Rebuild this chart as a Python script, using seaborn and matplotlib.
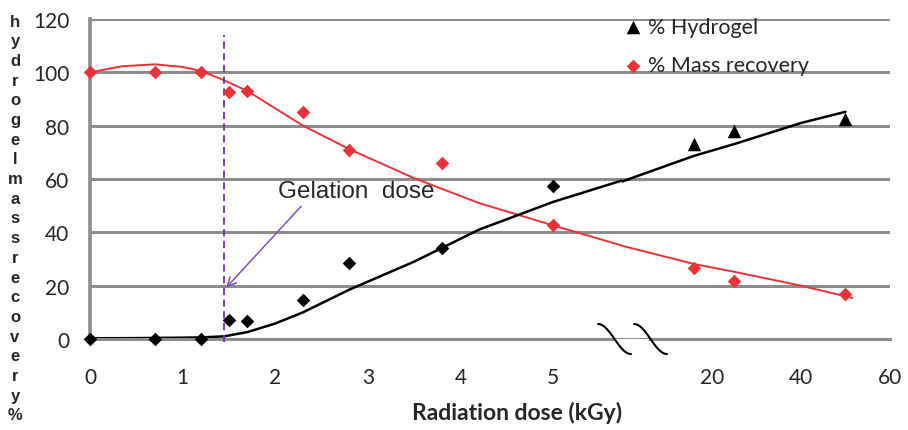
import numpy as np
import pandas as pd
import matplotlib
matplotlib.use("Agg")
import matplotlib.pyplot as plt
import seaborn as sns

# measured points, low-dose part of the axis (kGy, %)
dose_low = [0, 0.7, 1.2, 1.5, 1.7, 2.3, 2.8, 3.8, 5.0]
hydrogel_low = [0, 0, 0, 7.2, 6.7, 14.6, 28.5, 34, 57.3]
mass_low = [100, 100, 100, 92.6, 93, 85, 71, 66, 42.7]

# measured points, high-dose part of the axis
dose_high = [16, 25, 50]
hydrogel_high = [73, 78, 82.5]
mass_high = [26.6, 21.7, 16.9]

# trend lines
fit_dose_low = [0, 0.35, 0.7, 1.0, 1.2, 1.45, 1.7, 2.0, 2.3, 2.8, 3.5, 4.2, 5.0, 5.75]
fit_mass_low = [100, 102.3, 103, 102, 100.5, 97, 93, 86.5, 80, 71.2, 60.3, 51, 42.6, 35]
fit_hydrogel_low = [0.3, 0.3, 0.4, 0.5, 0.6, 1, 2.6, 5.8, 10, 18.5, 29, 41, 51.4, 59.5]
fit_dose_high = [-0.3, 16, 25, 40, 50]
fit_hydrogel_high = [59, 68.7, 73.1, 81, 85.2]
fit_dose_high_m = [-0.3, 16, 25, 40, 51.5]
fit_mass_high = [35, 28.1, 25.2, 20, 15.4]

gel_dose = 1.45
low_ticks = [0, 1, 2, 3, 4, 5]
high_ticks = [20, 40, 60]
y_ticks = [0, 20, 40, 60, 80, 100, 120]

RED = "#ED3237"
GRID = "#8C8C8C"
PURPLE = "#7030A0"

sns.set_style("white")
plt.rcParams["font.family"] = ["Lato", "DejaVu Sans"]

W, H = 908, 431
fig = plt.figure(figsize=(W / 100, H / 100), dpi=100)
bot = (H - 340) / H
hgt = 320 / H
ax_l = fig.add_axes([90 / W, bot, (622 - 90) / W, hgt])
ax_r = fig.add_axes([622 / W, bot, (890 - 622) / W, hgt])

for ax in (ax_l, ax_r):
    ax.set_ylim(0, 120)
    ax.set_yticks(y_ticks)
    ax.grid(axis="y", color=GRID, linewidth=2.2)
    ax.set_axisbelow(True)
    for s in ("top", "right"):
        ax.spines[s].set_visible(False)
    ax.spines["bottom"].set_color(GRID)
    ax.spines["bottom"].set_linewidth(2.2)
    ax.tick_params(axis="x", direction="out", length=6, width=2,
                   color=GRID, pad=14, labelsize=15)

ax_l.spines["left"].set_color(GRID)
ax_l.spines["left"].set_linewidth(2.6)
ax_l.tick_params(axis="y", length=0, pad=15, labelsize=15)
ax_r.spines["left"].set_visible(False)
ax_r.tick_params(axis="y", length=0, labelleft=False)

ax_l.set_xlim(0, 5.745)
ax_l.set_xticks(low_ticks)
ax_l.spines["bottom"].set_bounds(0, 5.65)
ax_r.set_xlim(-0.22, 60)
ax_r.set_xticks(high_ticks)
ax_r.spines["bottom"].set_bounds(6.1, 60)

# trend lines
sns.lineplot(x=fit_dose_low, y=fit_mass_low, ax=ax_l, color=RED, lw=1.4,
             sort=False, estimator=None)
sns.lineplot(x=fit_dose_low, y=fit_hydrogel_low, ax=ax_l, color="black",
             lw=1.8, sort=False, estimator=None)
sns.lineplot(x=fit_dose_high_m, y=fit_mass_high, ax=ax_r, color=RED, lw=1.4,
             sort=False, estimator=None)
sns.lineplot(x=fit_dose_high, y=fit_hydrogel_high, ax=ax_r, color="black",
             lw=1.8, sort=False, estimator=None)

# points
sns.scatterplot(x=dose_low, y=hydrogel_low, ax=ax_l, marker="D", s=48,
                color="black", linewidth=0, clip_on=False, zorder=5)
sns.scatterplot(x=dose_low, y=mass_low, ax=ax_l, marker="D", s=48,
                color=RED, linewidth=0, clip_on=False, zorder=5)
sns.scatterplot(x=dose_high, y=hydrogel_high, ax=ax_r, marker="^", s=95,
                color="black", linewidth=0, zorder=5, label="% Hydrogel")
sns.scatterplot(x=dose_high, y=mass_high, ax=ax_r, marker="D", s=48,
                color=RED, linewidth=0, zorder=5, label="% Mass recovery")
for ax in (ax_l, ax_r):
    if ax.get_legend() is not None:
        ax.get_legend().remove()
    ax.set_xlabel("")
    ax.set_ylabel("")

# gelation dose marker
ax_l.plot([gel_dose, gel_dose], [-1, 114], color=PURPLE, lw=1.3,
          linestyle=(0, (4, 2.5)), clip_on=False, zorder=4)
ax_l.annotate("", xy=(gel_dose, 18.5), xytext=(2.3, 50.5),
              arrowprops=dict(arrowstyle="->", color="#7B4FC0", lw=1.1,
                              mutation_scale=16))
ax_l.text(2.03, 55.5, "Gelation  dose", fontsize=17.5, va="center",
          ha="left", family=["Liberation Sans", "DejaVu Sans"])

# axis break marks
t = np.linspace(0, 1, 40)
for x0 in (598, 634):
    xs = (x0 + 33 * t) / W
    ys = (H - 325 - 30 * (0.5 - 0.5 * np.cos(np.pi * t))) / H
    fig.add_artist(plt.Line2D(xs, ys, color="black", lw=1.5,
                              transform=fig.transFigure))

handles, labels = ax_r.get_legend_handles_labels()
fig.legend(handles, labels, loc="upper left",
           bbox_to_anchor=(624 / W, 1 - 18 / H), frameon=False,
           fontsize=15.5, handlelength=0.8, handletextpad=0.3,
           labelspacing=0.85, borderpad=0, borderaxespad=0)

fig.text(517 / W, 1 - 413 / H, "Radiation dose (kGy)", ha="center",
         va="center", fontsize=16.5, fontweight="bold")
ylabel = "hydrogelmassrecovery%"
fig.text(15 / W, 1 - 219 / H, "\n".join(ylabel), ha="center", va="center",
         fontsize=12, fontweight="bold", linespacing=1.39,
         family=["Liberation Sans", "DejaVu Sans"])

fig.savefig("out.png", dpi=100)
